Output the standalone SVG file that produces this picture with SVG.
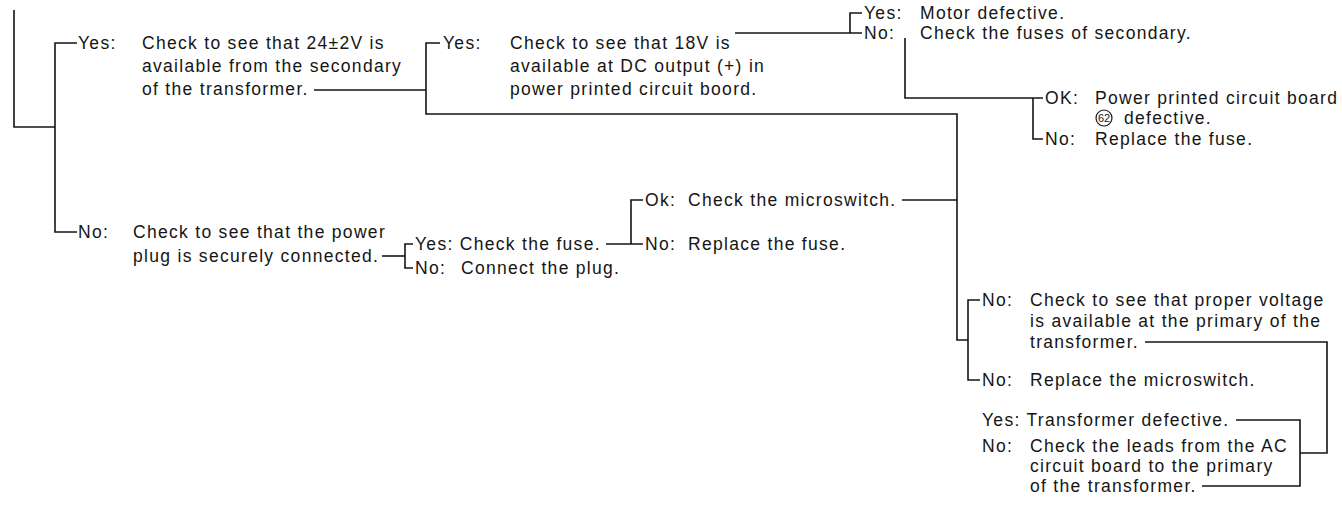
<svg xmlns="http://www.w3.org/2000/svg" width="1342" height="506" viewBox="0 0 1342 506">
<style>
text{font-family:"Liberation Sans",Arial,sans-serif;font-size:17.5px;letter-spacing:1.3px;fill:#151515}
.c{fill:none;stroke:#151515;stroke-width:1.6}
.sm{font-size:11px;letter-spacing:0}
</style>
<rect width="1342" height="506" fill="#fff"/>
<g id="connectors" class="c">
<path d="M14,10 V127 H55"/>
<path d="M77,43 H55 V232 H77"/>
<path d="M314,90 H426"/>
<path d="M440,43 H426 V114 H957 V340 H968"/>
<path d="M735,33 H862"/>
<path d="M862,13 H850 V33"/>
<path d="M905,38 V98 H1043"/>
<path d="M1033,98 V139 H1043"/>
<path d="M382,256 H405"/>
<path d="M413,244 H405 V268 H413"/>
<path d="M606,244 H643"/>
<path d="M643,200 H631 V244"/>
<path d="M902,200 H957"/>
<path d="M980,300 H968 V380 H980"/>
<path d="M1145,342 H1327 V453 H1300"/>
<path d="M1236,420 H1300 V486 H1202"/>
</g>
<g id="n-yes-24v">
<text x="78" y="49">Yes:</text>
<text x="142" y="49">Check to see that 24±2V is</text>
<text x="142" y="72">available from the secondary</text>
<text x="142" y="95">of the transformer.</text>
</g>
<g id="n-yes-18v">
<text x="443" y="49">Yes:</text>
<text x="510" y="49">Check to see that 18V is</text>
<text x="510" y="72">available at DC output (+) in</text>
<text x="510" y="95">power printed circuit boord.</text>
</g>
<g id="n-motor">
<text x="864" y="19">Yes:</text>
<text x="920" y="19">Motor defective.</text>
</g>
<g id="n-fuses-secondary">
<text x="864" y="39">No:</text>
<text x="920" y="39">Check the fuses of secondary.</text>
</g>
<g id="n-pcb-defective">
<text x="1045" y="104">OK:</text>
<text x="1095" y="104">Power printed circuit board</text>
<circle cx="1104" cy="118" r="8" fill="none" stroke="#151515" stroke-width="1.2"/>
<text class="sm" x="1104" y="122" text-anchor="middle">62</text>
<text x="1124" y="124">defective.</text>
</g>
<g id="n-replace-fuse-2">
<text x="1045" y="145">No:</text>
<text x="1095" y="145">Replace the fuse.</text>
</g>
<g id="n-power-plug">
<text x="78" y="238">No:</text>
<text x="133" y="238">Check to see that the power</text>
<text x="133" y="262">plug is securely connected.</text>
</g>
<g id="n-check-fuse">
<text x="415" y="250">Yes: Check the fuse.</text>
</g>
<g id="n-connect-plug">
<text x="415" y="274">No:</text>
<text x="461" y="274">Connect the plug.</text>
</g>
<g id="n-microswitch">
<text x="645" y="206">Ok:</text>
<text x="688" y="206">Check the microswitch.</text>
</g>
<g id="n-replace-fuse-1">
<text x="645" y="250">No:</text>
<text x="688" y="250">Replace the fuse.</text>
</g>
<g id="n-primary-voltage">
<text x="982" y="306">No:</text>
<text x="1030" y="306">Check to see that proper voltage</text>
<text x="1030" y="327">is available at the primary of the</text>
<text x="1030" y="348">transformer.</text>
</g>
<g id="n-replace-microswitch">
<text x="982" y="386">No:</text>
<text x="1030" y="386">Replace the microswitch.</text>
</g>
<g id="n-transformer-defective">
<text x="982" y="426">Yes: Transformer defective.</text>
</g>
<g id="n-check-leads">
<text x="982" y="452">No:</text>
<text x="1030" y="452">Check the leads from the AC</text>
<text x="1030" y="472">circuit board to the primary</text>
<text x="1030" y="492">of the transformer.</text>
</g>
</svg>
